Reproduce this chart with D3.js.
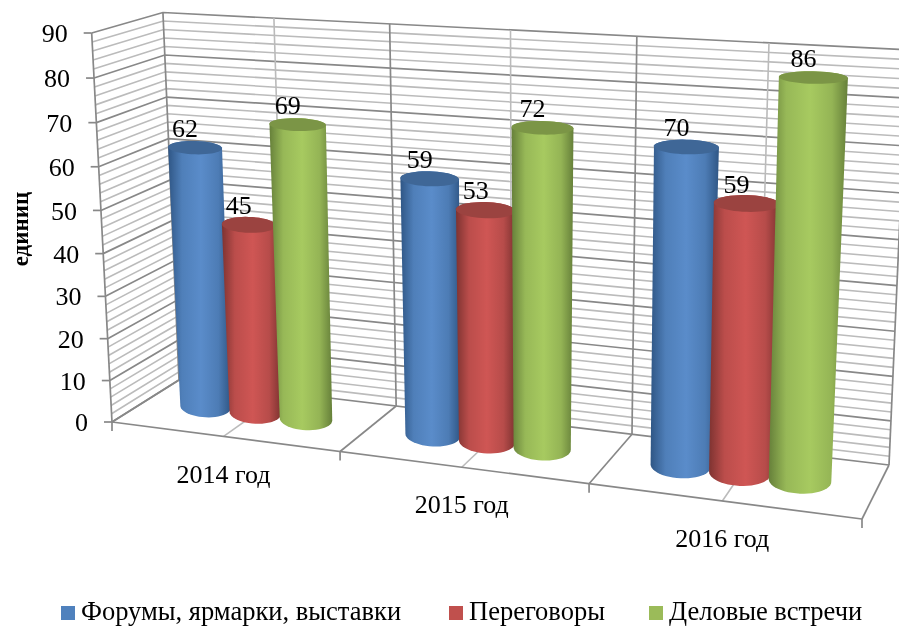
<!DOCTYPE html>
<html>
<head>
<meta charset="utf-8">
<script src="https://cdn.jsdelivr.net/npm/d3@7"></script>
<style>
  html, body { margin: 0; padding: 0; background: #fff; overflow: hidden; }
  svg { filter: blur(0.35px); }
</style>
</head>
<body>
<div id="chart"></div>
<script>
const categories = ['2014 год', '2015 год', '2016 год']
const seriesNames = ['Форумы, ярмарки, выставки', 'Переговоры', 'Деловые встречи']
const forums = [62, 59, 70]
const talks = [45, 53, 59]
const meetings = [69, 72, 86]
const yTicks = [0, 10, 20, 30, 40, 50, 60, 70, 80, 90]
const yMinor = d3.range(0, 91, 2)

const seriesValues = [forums, talks, meetings]
const colors = [
  { edge: '#2f5685', mid: '#5a8cca', top: '#3f6797', flat: '#4f81bd' },
  { edge: '#7e3331', mid: '#cf5654', top: '#9b4340', flat: '#c0504d' },
  { edge: '#66803a', mid: '#a7ca60', top: '#7b9546', flat: '#9bbb59' }
]

const width = 899
const height = 626

// пол коробки (перед-лево, перед-право, зад-право, зад-лево) и точка схода вертикалей
const floorQuad = [[112, 422], [862, 519], [889, 465], [179, 380]]
const vanish = [534, 8500]
const topFrontY = 33
const depthCenter = 0.52
const uRadius = 0.116

function cameraFrom (q) {
  const [[x0, y0], [x1, y1], [x2, y2], [x3, y3]] = q
  const dx1 = x1 - x2
  const dx2 = x3 - x2
  const sx = x0 - x1 + x2 - x3
  const dy1 = y1 - y2
  const dy2 = y3 - y2
  const sy = y0 - y1 + y2 - y3
  const den = dx1 * dy2 - dx2 * dy1
  const g = (sx * dy2 - dx2 * sy) / den
  const h = (dx1 * sy - sx * dy1) / den
  const a = x1 - x0 + g * x1
  const b = x3 - x0 + h * x3
  const d = y1 - y0 + g * y1
  const e = y3 - y0 + h * y3
  const lambda = (topFrontY - y0) / (vanish[1] - topFrontY)
  return (u, w, t) => {
    const k = g * u + h * w + 1 + lambda * t
    return [
      (a * u + b * w + x0 + lambda * vanish[0] * t) / k,
      (d * u + e * w + y0 + lambda * vanish[1] * t) / k
    ]
  }
}

const project = cameraFrom(floorQuad)

const xCat = d3.scaleBand().domain(categories).range([0, 1])
const xSeries = d3.scaleBand().domain(seriesNames).range([0.155 * xCat.bandwidth(), 0.833 * xCat.bandwidth()])
const yScale = d3.scaleLinear().domain([0, 90]).range([0, 1])
// чем выше срез цилиндра, тем площе эллипс
const flatness = d3.scaleLinear().domain([0, 90]).range([0.42, 0.17])
const widen = d3.scaleLinear().domain([0, 90]).range([1, 1.05])

const point = (u, w, v) => project(u, w, yScale(v))

const svg = d3.select('#chart')
  .append('svg')
  .attr('width', width)
  .attr('height', height)
  .style('font-family', '"Liberation Serif", "Times New Roman", serif')

const defs = svg.append('defs')
colors.forEach((c, i) => {
  const grad = defs.append('linearGradient').attr('id', 'body' + i)
  grad.append('stop').attr('offset', '0%').attr('stop-color', c.edge)
  grad.append('stop').attr('offset', '22%').attr('stop-color', d3.interpolateRgb(c.edge, c.mid)(0.75))
  grad.append('stop').attr('offset', '52%').attr('stop-color', c.mid)
  grad.append('stop').attr('offset', '80%').attr('stop-color', d3.interpolateRgb(c.edge, c.mid)(0.7))
  grad.append('stop').attr('offset', '100%').attr('stop-color', c.edge)
})

const line = d3.line()
const grid = svg.append('g').attr('fill', 'none')

function gridLine (pts, major) {
  grid.append('path')
    .attr('d', line(pts))
    .attr('stroke', major ? '#888888' : '#bbbbbb')
    .attr('stroke-width', major ? 1.7 : 1.6)
}

// горизонтали на левой и задней стенках
yMinor.forEach(v => {
  const major = yTicks.includes(v)
  gridLine([point(0, 0, v), point(0, 1, v), point(1, 1, v)], major)
})

// вертикали на задней стенке и линии пола
const uSteps = d3.range(0, 7).map(i => i / 6)
uSteps.forEach((u, i) => {
  const major = i % 2 === 0
  gridLine([point(u, 1, 0), point(u, 1, 90)], major)
  gridLine([point(u, 0, 0), point(u, 1, 0)], major)
  if (major) {
    const f = point(u, 0, 0)
    gridLine([f, [f[0], f[1] + 9]], true)
  }
})

// передний край пола и ось значений
gridLine([point(0, 0, 0), point(1, 0, 0)], true)
gridLine([point(0, 0, 0), point(0, 0, 90)], true)

yTicks.forEach(v => {
  const p = point(0, 0, v)
  gridLine([p, [p[0] - 8, p[1]]], true)
  svg.append('text')
    .attr('x', p[0] - 24)
    .attr('y', p[1])
    .attr('dy', '0.35em')
    .attr('text-anchor', 'end')
    .style('font-size', '26px')
    .text(v)
})

// цилиндры
const bars = svg.append('g')
const labels = svg.append('g')
const angles = d3.range(0, 48).map(i => i / 48 * 2 * Math.PI)

categories.forEach((cat, ci) => {
  seriesNames.forEach((name, si) => {
    const value = seriesValues[si][ci]
    const uc = xCat(cat) + xSeries(name) + xSeries.bandwidth() / 2
    const ru = uRadius * xCat.bandwidth()
    const ring = v => {
      const c = point(uc, depthCenter, v)
      const l = point(uc - ru, depthCenter, v)
      const r = point(uc + ru, depthCenter, v)
      const rx = (r[0] - l[0]) / 2 * widen(v)
      const ry = rx * flatness(v)
      const tilt = (r[1] - l[1]) / (r[0] - l[0]) * 0.35
      return angles.map(a => [
        c[0] + rx * Math.cos(a),
        c[1] + ry * Math.sin(a) + rx * tilt * Math.cos(a)
      ])
    }
    const bottom = ring(0)
    const top = ring(value)
    const hull = d3.polygonHull(bottom.concat(top))
    bars.append('path')
      .attr('d', line(hull) + 'Z')
      .attr('fill', `url(#body${si})`)
    bars.append('path')
      .attr('d', line(top) + 'Z')
      .attr('fill', colors[si].top)
    const head = point(uc, depthCenter, value)
    labels.append('text')
      .attr('x', head[0] - 10)
      .attr('y', head[1] - 20)
      .attr('dy', '0.35em')
      .attr('text-anchor', 'middle')
      .style('font-size', '26px')
      .text(value)
  })
  const foot = point(xCat(cat) + xCat.bandwidth() / 2, 0, 0)
  svg.append('text')
    .attr('x', foot[0])
    .attr('y', foot[1] + 37)
    .attr('dy', '0.35em')
    .attr('text-anchor', 'middle')
    .style('font-size', '26px')
    .text(cat)
})

// подпись оси
svg.append('text')
  .attr('transform', 'translate(20,229) rotate(-90)')
  .attr('dy', '0.35em')
  .attr('text-anchor', 'middle')
  .style('font-size', '23px')
  .style('font-weight', 'bold')
  .text('единиц')

// легенда
const legendX = [61, 449, 649]
seriesNames.forEach((name, i) => {
  svg.append('rect')
    .attr('x', legendX[i])
    .attr('y', 606)
    .attr('width', 14)
    .attr('height', 14)
    .attr('fill', colors[i].flat)
  svg.append('text')
    .attr('x', legendX[i] + 20)
    .attr('y', 619.5)
    .style('font-size', '26.5px')
    .text(name)
})
</script>
</body>
</html>
